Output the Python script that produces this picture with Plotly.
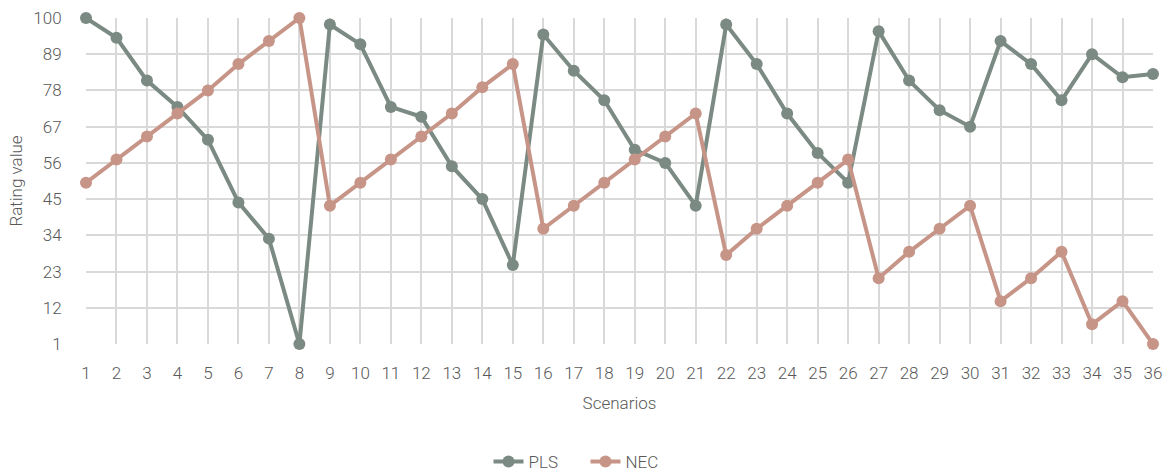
import plotly.graph_objects as go

scenarios = list(range(1, 37))
pls = [100, 94, 81, 73, 63, 44, 33, 1, 98, 92, 73, 70, 55, 45, 25, 95, 84, 75, 60, 56, 43,
       98, 86, 71, 59, 50, 96, 81, 72, 67, 93, 86, 75, 89, 82, 83]
nec = [50, 57, 64, 71, 78, 86, 93, 100, 43, 50, 57, 64, 71, 79, 86, 36, 43, 50, 57, 64, 71,
       28, 36, 43, 50, 57, 21, 29, 36, 43, 14, 21, 29, 7, 14, 1]
y_ticks = [1, 12, 23, 34, 45, 56, 67, 78, 89, 100]

PLS_COLOR = "#7b8a83"
NEC_COLOR = "#c79588"
TXT = dict(family="Roboto", size=17, color="#595959", weight=300)

fig = go.Figure()
fig.add_trace(go.Scatter(x=scenarios, y=pls, name="PLS", mode="lines+markers",
                         line=dict(color=PLS_COLOR, width=4),
                         marker=dict(color=PLS_COLOR, size=12), cliponaxis=False))
fig.add_trace(go.Scatter(x=scenarios, y=nec, name="NEC", mode="lines+markers",
                         line=dict(color=NEC_COLOR, width=4),
                         marker=dict(color=NEC_COLOR, size=12), cliponaxis=False))

fig.update_layout(
    width=1171, height=473,
    margin=dict(l=86, r=18, t=18, b=129, autoexpand=False),
    plot_bgcolor="white", paper_bgcolor="white",
    font=TXT,
    showlegend=True,
    legend=dict(orientation="h", xref="container",
                x=0.5, xanchor="center", y=-0.362, yanchor="middle",
                font=TXT, tracegroupgap=0, entrywidth=52, entrywidthmode="pixels"),
)
fig.update_xaxes(
    range=[1, 36], tickmode="array", tickvals=scenarios,
    showgrid=True, gridcolor="#d9d9d9", gridwidth=2,
    zeroline=False, showline=False, automargin=False,
    ticks="outside", ticklen=14, tickcolor="rgba(0,0,0,0)",
    title=dict(text="Scenarios", standoff=14, font=TXT),
)
fig.update_yaxes(
    range=[1, 100], tickmode="array", tickvals=y_ticks,
    showgrid=True, gridcolor="#d9d9d9", gridwidth=2,
    zeroline=False, showline=False, automargin=False,
    ticks="outside", ticklen=20, tickcolor="rgba(0,0,0,0)",
    title=dict(text="Rating value", standoff=6, font=TXT),
)

fig.write_html("out.html", config={"displayModeBar": False},
               post_script="document.body.style.margin='0';")
